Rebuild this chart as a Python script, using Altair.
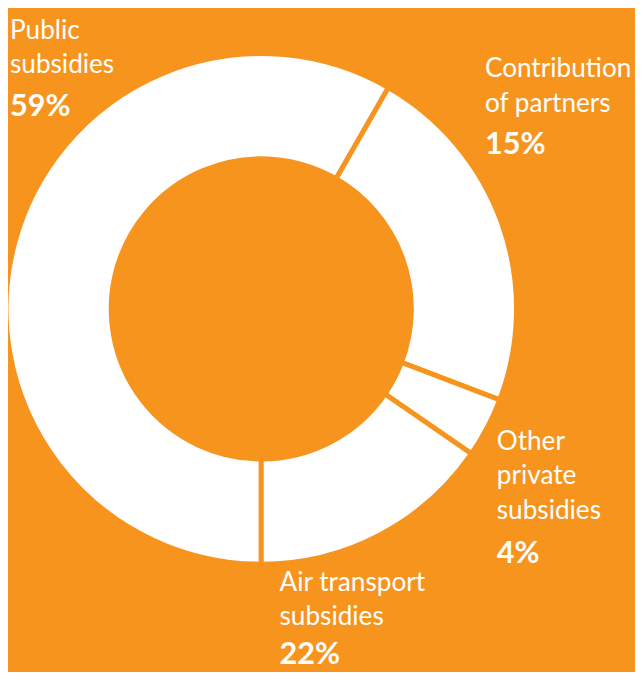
import altair as alt
import pandas as pd

# ---- data ----
categories = ["Public subsidies", "Contribution of partners", "Other private subsidies", "Air transport subsidies"]
values = [58.3, 22.5, 3.8, 15.4]          # slice sizes as drawn
label_text = ["Public\nsubsidies", "Contribution\nof partners", "Other\nprivate\nsubsidies", "Air transport\nsubsidies"]
pct_text = ["59%", "15%", "4%", "22%"]

# ---- layout / style (chart origin sits at the page's 8px margin) ----
ORANGE = "#F7941E"
W, H = 635, 664
CX, CY = 256.5, 300.5
R_OUT, R_IN = 258.5, 152
FONT = "Lato"
# label anchors (left x, first-line baseline y, percentage baseline y)
anchors = [(2, 27, 105), (483, 66, 144), (495, 443, 558), (275, 586, 660)]

slices = pd.DataFrame({"category": categories, "value": values, "order": range(len(values))})

donut = alt.Chart(slices).mark_arc(
    innerRadius=R_IN, outerRadius=R_OUT, fill="white", stroke=ORANGE, strokeWidth=5
).encode(
    theta=alt.Theta("value:Q", stack=True, scale=alt.Scale(range=[3.14159265, 3 * 3.14159265])),
    order=alt.Order("order:O"),
    x=alt.value(CX),
    y=alt.value(CY),
)

labels = pd.DataFrame({
    "label": label_text,
    "pct": pct_text,
    "lx": [a[0] for a in anchors],
    "ly": [a[1] for a in anchors],
    "py": [a[2] for a in anchors],
})

names = alt.Chart(labels).mark_text(
    align="left", baseline="alphabetic", font=FONT, fontSize=26.5, color="white",
    lineBreak="\n", lineHeight=35,
).encode(
    x=alt.X("lx:Q", scale=None, axis=None),
    y=alt.Y("ly:Q", scale=None, axis=None),
    text="label:N",
)

pcts = alt.Chart(labels).mark_text(
    align="left", baseline="alphabetic", font=FONT, fontSize=31, fontWeight="bold", color="white",
).encode(
    x=alt.X("lx:Q", scale=None, axis=None),
    y=alt.Y("py:Q", scale=None, axis=None),
    text="pct:N",
)

chart = alt.layer(donut, names, pcts).properties(
    width=W, height=H, background=ORANGE, padding=0,
    autosize=alt.AutoSizeParams(type="none"),
).configure_view(stroke=None)

chart.save("out.html", embed_options={"renderer": "svg", "actions": False})
